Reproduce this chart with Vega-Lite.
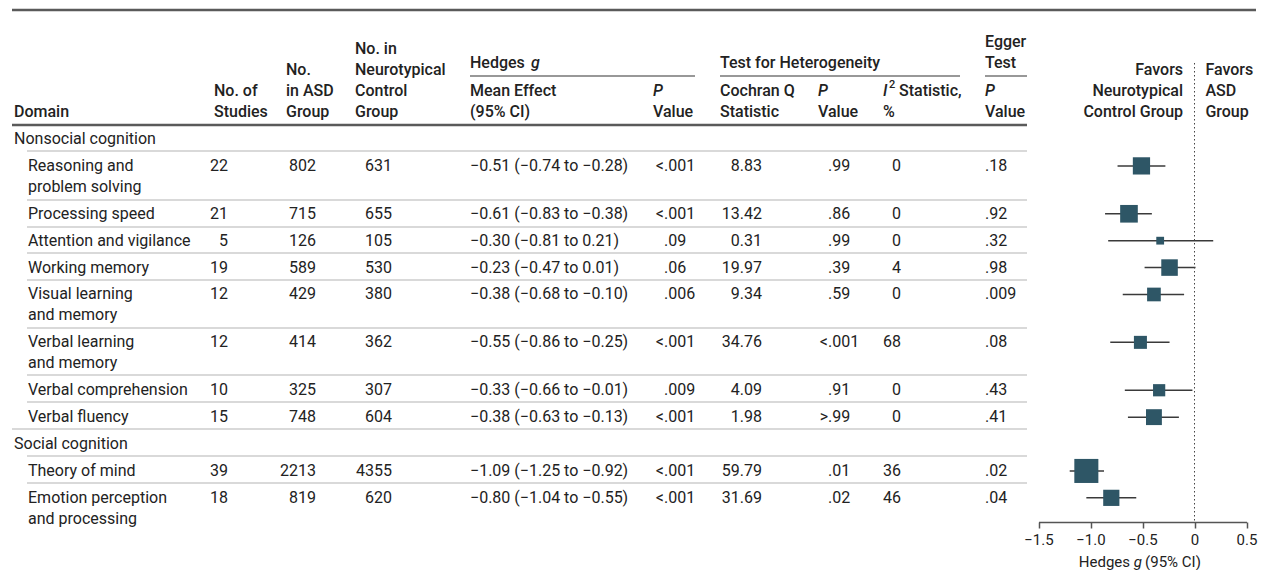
{
  "$schema": "https://vega.github.io/schema/vega-lite/v6.json",
  "width": 1262,
  "height": 522,
  "padding": 0,
  "autosize": {"type": "pad"},
  "background": "white",
  "config": {
    "view": {"stroke": null},
    "text": {"font": "Roboto", "fontSize": 16, "color": "#222222", "baseline": "top", "dy": -8, "lineHeight": 21, "align": "left"}
  },
  "datasets": {
    "rows": [
      {"row": 0, "lvl": 0, "label": "Nonsocial cognition"},
      {"row": 1, "lvl": 1, "label": "Reasoning and\nproblem solving", "n": "22", "asd": "802", "ctl": "631", "ci": "−0.51 (−0.74 to −0.28)", "pp": "<", "p": ".001", "q": "8.83", "hpp": "", "hp": ".99", "i2": "0", "eg": ".18", "g": -0.51, "lo": -0.74, "hi": -0.28, "w": 72.6},
      {"row": 2.78, "lvl": 1, "label": "Processing speed", "n": "21", "asd": "715", "ctl": "655", "ci": "−0.61 (−0.83 to −0.38)", "pp": "<", "p": ".001", "q": "13.42", "hpp": "", "hp": ".86", "i2": "0", "eg": ".92", "g": -0.63, "lo": -0.86, "hi": -0.41, "w": 75.9},
      {"row": 3.78, "lvl": 1, "label": "Attention and vigilance", "n": "5", "asd": "126", "ctl": "105", "ci": "−0.30 (−0.81 to 0.21)", "pp": "", "p": ".09", "q": "0.31", "hpp": "", "hp": ".99", "i2": "0", "eg": ".32", "g": -0.33, "lo": -0.83, "hi": 0.18, "w": 14.8},
      {"row": 4.78, "lvl": 1, "label": "Working memory", "n": "19", "asd": "589", "ctl": "530", "ci": "−0.23 (−0.47 to 0.01)", "pp": "", "p": ".06", "q": "19.97", "hpp": "", "hp": ".39", "i2": "4", "eg": ".98", "g": -0.24, "lo": -0.48, "hi": 0.01, "w": 66.7},
      {"row": 5.78, "lvl": 1, "label": "Visual learning\nand memory", "n": "12", "asd": "429", "ctl": "380", "ci": "−0.38 (−0.68 to −0.10)", "pp": "", "p": ".006", "q": "9.34", "hpp": "", "hp": ".59", "i2": "0", "eg": ".009", "g": -0.39, "lo": -0.69, "hi": -0.10, "w": 45.7},
      {"row": 7.56, "lvl": 1, "label": "Verbal learning\nand memory", "n": "12", "asd": "414", "ctl": "362", "ci": "−0.55 (−0.86 to −0.25)", "pp": "<", "p": ".001", "q": "34.76", "hpp": "<", "hp": ".001", "i2": "68", "eg": ".08", "g": -0.52, "lo": -0.81, "hi": -0.24, "w": 41.3},
      {"row": 9.34, "lvl": 1, "label": "Verbal comprehension", "n": "10", "asd": "325", "ctl": "307", "ci": "−0.33 (−0.66 to −0.01)", "pp": "", "p": ".009", "q": "4.09", "hpp": "", "hp": ".91", "i2": "0", "eg": ".43", "g": -0.34, "lo": -0.67, "hi": -0.02, "w": 36.4},
      {"row": 10.34, "lvl": 1, "label": "Verbal fluency", "n": "15", "asd": "748", "ctl": "604", "ci": "−0.38 (−0.63 to −0.13)", "pp": "<", "p": ".001", "q": "1.98", "hpp": ">", "hp": ".99", "i2": "0", "eg": ".41", "g": -0.39, "lo": -0.64, "hi": -0.15, "w": 61.5},
      {"row": 11.34, "lvl": 0, "label": "Social cognition"},
      {"row": 12.34, "lvl": 1, "label": "Theory of mind", "n": "39", "asd": "2213", "ctl": "4355", "ci": "−1.09 (−1.25 to −0.92)", "pp": "<", "p": ".001", "q": "59.79", "hpp": "", "hp": ".01", "i2": "36", "eg": ".02", "g": -1.04, "lo": -1.20, "hi": -0.87, "w": 141},
      {"row": 13.34, "lvl": 1, "label": "Emotion perception\nand processing", "n": "18", "asd": "819", "ctl": "620", "ci": "−0.80 (−1.04 to −0.55)", "pp": "<", "p": ".001", "q": "31.69", "hpp": "", "hp": ".02", "i2": "46", "eg": ".04", "g": -0.80, "lo": -1.04, "hi": -0.56, "w": 64}
    ],
    "seps": [
      {"row": 0.446, "kind": "item"},
      {"row": 2.268, "kind": "item"},
      {"row": 3.271, "kind": "item"},
      {"row": 4.238, "kind": "item"},
      {"row": 5.24, "kind": "item"},
      {"row": 7.026, "kind": "item"},
      {"row": 8.773, "kind": "item"},
      {"row": 9.777, "kind": "item"},
      {"row": 10.78, "kind": "group"},
      {"row": 11.784, "kind": "item"},
      {"row": 12.788, "kind": "item"}
    ]
  },
  "layer": [
    {
      "layer": [
        {"data": {"values": [{}]}, "mark": {"type": "rule", "color": "#5a5a5a", "strokeWidth": 2.5},
         "encoding": {"x": {"datum": 12, "type": "quantitative", "scale": {"domain": [0, 1262], "nice": false, "zero": false}, "axis": null}, "x2": {"datum": 1256},
                      "y": {"datum": -4.796, "type": "quantitative", "scale": {"domain": [-5.167, 14.238], "reverse": true, "nice": false, "zero": false}, "axis": null}}},
        {"data": {"values": [{}]}, "mark": {"type": "rule", "color": "#5a5a5a", "strokeWidth": 2.5},
         "encoding": {"x": {"datum": 12, "type": "quantitative", "scale": {"domain": [0, 1262], "nice": false, "zero": false}, "axis": null}, "x2": {"datum": 1027},
                      "y": {"datum": -0.52, "type": "quantitative", "scale": {"domain": [-5.167, 14.238], "reverse": true, "nice": false, "zero": false}, "axis": null}}},
        {"data": {"values": [{}]}, "mark": {"type": "rule", "color": "#333333", "strokeWidth": 1.2},
         "encoding": {"x": {"datum": 470, "type": "quantitative", "scale": {"domain": [0, 1262], "nice": false, "zero": false}, "axis": null}, "x2": {"datum": 695},
                      "y": {"datum": -2.342, "type": "quantitative", "scale": {"domain": [-5.167, 14.238], "reverse": true, "nice": false, "zero": false}, "axis": null}}},
        {"data": {"values": [{}]}, "mark": {"type": "rule", "color": "#333333", "strokeWidth": 1.2},
         "encoding": {"x": {"datum": 720, "type": "quantitative", "scale": {"domain": [0, 1262], "nice": false, "zero": false}, "axis": null}, "x2": {"datum": 960},
                      "y": {"datum": -2.342, "type": "quantitative", "scale": {"domain": [-5.167, 14.238], "reverse": true, "nice": false, "zero": false}, "axis": null}}},
        {"data": {"values": [{}]}, "mark": {"type": "rule", "color": "#333333", "strokeWidth": 1.2},
         "encoding": {"x": {"datum": 985, "type": "quantitative", "scale": {"domain": [0, 1262], "nice": false, "zero": false}, "axis": null}, "x2": {"datum": 1027},
                      "y": {"datum": -2.342, "type": "quantitative", "scale": {"domain": [-5.167, 14.238], "reverse": true, "nice": false, "zero": false}, "axis": null}}},
        {"data": {"name": "seps"}, "transform": [{"filter": "datum.kind == 'item'"}], "mark": {"type": "rule", "color": "#cccccc", "strokeWidth": 1.5},
         "encoding": {"x": {"datum": 27, "type": "quantitative", "scale": {"domain": [0, 1262], "nice": false, "zero": false}, "axis": null}, "x2": {"datum": 1027},
                      "y": {"field": "row", "type": "quantitative", "scale": {"domain": [-5.167, 14.238], "reverse": true, "nice": false, "zero": false}, "axis": null}}},
        {"data": {"name": "seps"}, "transform": [{"filter": "datum.kind == 'group'"}], "mark": {"type": "rule", "color": "#cccccc", "strokeWidth": 1.5},
         "encoding": {"x": {"datum": 12, "type": "quantitative", "scale": {"domain": [0, 1262], "nice": false, "zero": false}, "axis": null}, "x2": {"datum": 1027},
                      "y": {"field": "row", "type": "quantitative", "scale": {"domain": [-5.167, 14.238], "reverse": true, "nice": false, "zero": false}, "axis": null}}},

        {"data": {"values": [{"t": "Domain"}]}, "mark": {"type": "text", "fontWeight": 500},
         "encoding": {"x": {"datum": 14, "type": "quantitative", "scale": {"domain": [0, 1262], "nice": false, "zero": false}, "axis": null},
                      "y": {"datum": -1.004, "type": "quantitative", "scale": {"domain": [-5.167, 14.238], "reverse": true, "nice": false, "zero": false}, "axis": null}, "text": {"field": "t"}}},
        {"data": {"values": [{"t": "No. of\nStudies"}]}, "mark": {"type": "text", "fontWeight": 500, "lineBreak": "\n"},
         "encoding": {"x": {"datum": 214, "type": "quantitative", "scale": {"domain": [0, 1262], "nice": false, "zero": false}, "axis": null},
                      "y": {"datum": -1.784, "type": "quantitative", "scale": {"domain": [-5.167, 14.238], "reverse": true, "nice": false, "zero": false}, "axis": null}, "text": {"field": "t"}}},
        {"data": {"values": [{"t": "No.\nin ASD\nGroup"}]}, "mark": {"type": "text", "fontWeight": 500, "lineBreak": "\n"},
         "encoding": {"x": {"datum": 286, "type": "quantitative", "scale": {"domain": [0, 1262], "nice": false, "zero": false}, "axis": null},
                      "y": {"datum": -2.565, "type": "quantitative", "scale": {"domain": [-5.167, 14.238], "reverse": true, "nice": false, "zero": false}, "axis": null}, "text": {"field": "t"}}},
        {"data": {"values": [{"t": "No. in\nNeurotypical\nControl\nGroup"}]}, "mark": {"type": "text", "fontWeight": 500, "lineBreak": "\n"},
         "encoding": {"x": {"datum": 355, "type": "quantitative", "scale": {"domain": [0, 1262], "nice": false, "zero": false}, "axis": null},
                      "y": {"datum": -3.346, "type": "quantitative", "scale": {"domain": [-5.167, 14.238], "reverse": true, "nice": false, "zero": false}, "axis": null}, "text": {"field": "t"}}},
        {"data": {"values": [{"t": "Hedges"}]}, "mark": {"type": "text", "fontWeight": 500},
         "encoding": {"x": {"datum": 470, "type": "quantitative", "scale": {"domain": [0, 1262], "nice": false, "zero": false}, "axis": null},
                      "y": {"datum": -2.825, "type": "quantitative", "scale": {"domain": [-5.167, 14.238], "reverse": true, "nice": false, "zero": false}, "axis": null}, "text": {"field": "t"}}},
        {"data": {"values": [{"t": "g"}]}, "mark": {"type": "text", "fontWeight": 500, "fontStyle": "italic"},
         "encoding": {"x": {"datum": 531, "type": "quantitative", "scale": {"domain": [0, 1262], "nice": false, "zero": false}, "axis": null},
                      "y": {"datum": -2.825, "type": "quantitative", "scale": {"domain": [-5.167, 14.238], "reverse": true, "nice": false, "zero": false}, "axis": null}, "text": {"field": "t"}}},
        {"data": {"values": [{"t": "Mean Effect\n(95% CI)"}]}, "mark": {"type": "text", "fontWeight": 500, "lineBreak": "\n"},
         "encoding": {"x": {"datum": 470, "type": "quantitative", "scale": {"domain": [0, 1262], "nice": false, "zero": false}, "axis": null},
                      "y": {"datum": -1.784, "type": "quantitative", "scale": {"domain": [-5.167, 14.238], "reverse": true, "nice": false, "zero": false}, "axis": null}, "text": {"field": "t"}}},
        {"data": {"values": [{"t": "Test for Heterogeneity"}]}, "mark": {"type": "text", "fontWeight": 500},
         "encoding": {"x": {"datum": 720, "type": "quantitative", "scale": {"domain": [0, 1262], "nice": false, "zero": false}, "axis": null},
                      "y": {"datum": -2.825, "type": "quantitative", "scale": {"domain": [-5.167, 14.238], "reverse": true, "nice": false, "zero": false}, "axis": null}, "text": {"field": "t"}}},
        {"data": {"values": [{"t": "Cochran Q\nStatistic"}]}, "mark": {"type": "text", "fontWeight": 500, "lineBreak": "\n"},
         "encoding": {"x": {"datum": 720, "type": "quantitative", "scale": {"domain": [0, 1262], "nice": false, "zero": false}, "axis": null},
                      "y": {"datum": -1.784, "type": "quantitative", "scale": {"domain": [-5.167, 14.238], "reverse": true, "nice": false, "zero": false}, "axis": null}, "text": {"field": "t"}}},
        {"data": {"values": [{"t": "I"}]}, "mark": {"type": "text", "fontWeight": 500, "fontStyle": "italic"},
         "encoding": {"x": {"datum": 883, "type": "quantitative", "scale": {"domain": [0, 1262], "nice": false, "zero": false}, "axis": null},
                      "y": {"datum": -1.784, "type": "quantitative", "scale": {"domain": [-5.167, 14.238], "reverse": true, "nice": false, "zero": false}, "axis": null}, "text": {"field": "t"}}},
        {"data": {"values": [{"t": "2"}]}, "mark": {"type": "text", "fontWeight": 500, "fontSize": 11, "dy": -12},
         "encoding": {"x": {"datum": 889, "type": "quantitative", "scale": {"domain": [0, 1262], "nice": false, "zero": false}, "axis": null},
                      "y": {"datum": -1.784, "type": "quantitative", "scale": {"domain": [-5.167, 14.238], "reverse": true, "nice": false, "zero": false}, "axis": null}, "text": {"field": "t"}}},
        {"data": {"values": [{"t": "Statistic,"}]}, "mark": {"type": "text", "fontWeight": 500},
         "encoding": {"x": {"datum": 899, "type": "quantitative", "scale": {"domain": [0, 1262], "nice": false, "zero": false}, "axis": null},
                      "y": {"datum": -1.784, "type": "quantitative", "scale": {"domain": [-5.167, 14.238], "reverse": true, "nice": false, "zero": false}, "axis": null}, "text": {"field": "t"}}},
        {"data": {"values": [{"t": "%"}]}, "mark": {"type": "text", "fontWeight": 500},
         "encoding": {"x": {"datum": 883, "type": "quantitative", "scale": {"domain": [0, 1262], "nice": false, "zero": false}, "axis": null},
                      "y": {"datum": -1.004, "type": "quantitative", "scale": {"domain": [-5.167, 14.238], "reverse": true, "nice": false, "zero": false}, "axis": null}, "text": {"field": "t"}}},
        {"data": {"values": [{"t": "Egger\nTest"}]}, "mark": {"type": "text", "fontWeight": 500, "lineBreak": "\n"},
         "encoding": {"x": {"datum": 985, "type": "quantitative", "scale": {"domain": [0, 1262], "nice": false, "zero": false}, "axis": null},
                      "y": {"datum": -3.606, "type": "quantitative", "scale": {"domain": [-5.167, 14.238], "reverse": true, "nice": false, "zero": false}, "axis": null}, "text": {"field": "t"}}},
        {"data": {"values": [{"t": "P"}]}, "mark": {"type": "text", "fontWeight": 500, "fontStyle": "italic"},
         "encoding": {"x": {"datum": 653, "type": "quantitative", "scale": {"domain": [0, 1262], "nice": false, "zero": false}, "axis": null},
                      "y": {"datum": -1.784, "type": "quantitative", "scale": {"domain": [-5.167, 14.238], "reverse": true, "nice": false, "zero": false}, "axis": null}, "text": {"field": "t"}}},
        {"data": {"values": [{"t": "P"}]}, "mark": {"type": "text", "fontWeight": 500, "fontStyle": "italic"},
         "encoding": {"x": {"datum": 818, "type": "quantitative", "scale": {"domain": [0, 1262], "nice": false, "zero": false}, "axis": null},
                      "y": {"datum": -1.784, "type": "quantitative", "scale": {"domain": [-5.167, 14.238], "reverse": true, "nice": false, "zero": false}, "axis": null}, "text": {"field": "t"}}},
        {"data": {"values": [{"t": "P"}]}, "mark": {"type": "text", "fontWeight": 500, "fontStyle": "italic"},
         "encoding": {"x": {"datum": 985, "type": "quantitative", "scale": {"domain": [0, 1262], "nice": false, "zero": false}, "axis": null},
                      "y": {"datum": -1.784, "type": "quantitative", "scale": {"domain": [-5.167, 14.238], "reverse": true, "nice": false, "zero": false}, "axis": null}, "text": {"field": "t"}}},
        {"data": {"values": [{"t": "Value"}]}, "mark": {"type": "text", "fontWeight": 500},
         "encoding": {"x": {"datum": 653, "type": "quantitative", "scale": {"domain": [0, 1262], "nice": false, "zero": false}, "axis": null},
                      "y": {"datum": -1.004, "type": "quantitative", "scale": {"domain": [-5.167, 14.238], "reverse": true, "nice": false, "zero": false}, "axis": null}, "text": {"field": "t"}}},
        {"data": {"values": [{"t": "Value"}]}, "mark": {"type": "text", "fontWeight": 500},
         "encoding": {"x": {"datum": 818, "type": "quantitative", "scale": {"domain": [0, 1262], "nice": false, "zero": false}, "axis": null},
                      "y": {"datum": -1.004, "type": "quantitative", "scale": {"domain": [-5.167, 14.238], "reverse": true, "nice": false, "zero": false}, "axis": null}, "text": {"field": "t"}}},
        {"data": {"values": [{"t": "Value"}]}, "mark": {"type": "text", "fontWeight": 500},
         "encoding": {"x": {"datum": 985, "type": "quantitative", "scale": {"domain": [0, 1262], "nice": false, "zero": false}, "axis": null},
                      "y": {"datum": -1.004, "type": "quantitative", "scale": {"domain": [-5.167, 14.238], "reverse": true, "nice": false, "zero": false}, "axis": null}, "text": {"field": "t"}}},

        {"data": {"name": "rows"}, "transform": [{"filter": "datum.lvl == 0"}], "mark": {"type": "text"},
         "encoding": {"x": {"datum": 14, "type": "quantitative", "scale": {"domain": [0, 1262], "nice": false, "zero": false}, "axis": null},
                      "y": {"field": "row", "type": "quantitative", "scale": {"domain": [-5.167, 14.238], "reverse": true, "nice": false, "zero": false}, "axis": null}, "text": {"field": "label"}}},
        {"data": {"name": "rows"}, "transform": [{"filter": "datum.lvl == 1"}], "mark": {"type": "text", "lineBreak": "\n"},
         "encoding": {"x": {"datum": 28, "type": "quantitative", "scale": {"domain": [0, 1262], "nice": false, "zero": false}, "axis": null},
                      "y": {"field": "row", "type": "quantitative", "scale": {"domain": [-5.167, 14.238], "reverse": true, "nice": false, "zero": false}, "axis": null}, "text": {"field": "label"}}},
        {"data": {"name": "rows"}, "transform": [{"filter": "datum.lvl == 1"}], "mark": {"type": "text", "align": "right"},
         "encoding": {"x": {"datum": 228, "type": "quantitative", "scale": {"domain": [0, 1262], "nice": false, "zero": false}, "axis": null},
                      "y": {"field": "row", "type": "quantitative", "scale": {"domain": [-5.167, 14.238], "reverse": true, "nice": false, "zero": false}, "axis": null}, "text": {"field": "n"}}},
        {"data": {"name": "rows"}, "transform": [{"filter": "datum.lvl == 1"}], "mark": {"type": "text", "align": "right"},
         "encoding": {"x": {"datum": 316, "type": "quantitative", "scale": {"domain": [0, 1262], "nice": false, "zero": false}, "axis": null},
                      "y": {"field": "row", "type": "quantitative", "scale": {"domain": [-5.167, 14.238], "reverse": true, "nice": false, "zero": false}, "axis": null}, "text": {"field": "asd"}}},
        {"data": {"name": "rows"}, "transform": [{"filter": "datum.lvl == 1"}], "mark": {"type": "text", "align": "right"},
         "encoding": {"x": {"datum": 392, "type": "quantitative", "scale": {"domain": [0, 1262], "nice": false, "zero": false}, "axis": null},
                      "y": {"field": "row", "type": "quantitative", "scale": {"domain": [-5.167, 14.238], "reverse": true, "nice": false, "zero": false}, "axis": null}, "text": {"field": "ctl"}}},
        {"data": {"name": "rows"}, "transform": [{"filter": "datum.lvl == 1"}], "mark": {"type": "text"},
         "encoding": {"x": {"datum": 470, "type": "quantitative", "scale": {"domain": [0, 1262], "nice": false, "zero": false}, "axis": null},
                      "y": {"field": "row", "type": "quantitative", "scale": {"domain": [-5.167, 14.238], "reverse": true, "nice": false, "zero": false}, "axis": null}, "text": {"field": "ci"}}},
        {"data": {"name": "rows"}, "transform": [{"filter": "datum.lvl == 1"}], "mark": {"type": "text", "align": "right"},
         "encoding": {"x": {"datum": 664, "type": "quantitative", "scale": {"domain": [0, 1262], "nice": false, "zero": false}, "axis": null},
                      "y": {"field": "row", "type": "quantitative", "scale": {"domain": [-5.167, 14.238], "reverse": true, "nice": false, "zero": false}, "axis": null}, "text": {"field": "pp"}}},
        {"data": {"name": "rows"}, "transform": [{"filter": "datum.lvl == 1"}], "mark": {"type": "text"},
         "encoding": {"x": {"datum": 664, "type": "quantitative", "scale": {"domain": [0, 1262], "nice": false, "zero": false}, "axis": null},
                      "y": {"field": "row", "type": "quantitative", "scale": {"domain": [-5.167, 14.238], "reverse": true, "nice": false, "zero": false}, "axis": null}, "text": {"field": "p"}}},
        {"data": {"name": "rows"}, "transform": [{"filter": "datum.lvl == 1"}], "mark": {"type": "text", "align": "right"},
         "encoding": {"x": {"datum": 762, "type": "quantitative", "scale": {"domain": [0, 1262], "nice": false, "zero": false}, "axis": null},
                      "y": {"field": "row", "type": "quantitative", "scale": {"domain": [-5.167, 14.238], "reverse": true, "nice": false, "zero": false}, "axis": null}, "text": {"field": "q"}}},
        {"data": {"name": "rows"}, "transform": [{"filter": "datum.lvl == 1"}], "mark": {"type": "text", "align": "right"},
         "encoding": {"x": {"datum": 828, "type": "quantitative", "scale": {"domain": [0, 1262], "nice": false, "zero": false}, "axis": null},
                      "y": {"field": "row", "type": "quantitative", "scale": {"domain": [-5.167, 14.238], "reverse": true, "nice": false, "zero": false}, "axis": null}, "text": {"field": "hpp"}}},
        {"data": {"name": "rows"}, "transform": [{"filter": "datum.lvl == 1"}], "mark": {"type": "text"},
         "encoding": {"x": {"datum": 828, "type": "quantitative", "scale": {"domain": [0, 1262], "nice": false, "zero": false}, "axis": null},
                      "y": {"field": "row", "type": "quantitative", "scale": {"domain": [-5.167, 14.238], "reverse": true, "nice": false, "zero": false}, "axis": null}, "text": {"field": "hp"}}},
        {"data": {"name": "rows"}, "transform": [{"filter": "datum.lvl == 1"}], "mark": {"type": "text", "align": "right"},
         "encoding": {"x": {"datum": 901, "type": "quantitative", "scale": {"domain": [0, 1262], "nice": false, "zero": false}, "axis": null},
                      "y": {"field": "row", "type": "quantitative", "scale": {"domain": [-5.167, 14.238], "reverse": true, "nice": false, "zero": false}, "axis": null}, "text": {"field": "i2"}}},
        {"data": {"name": "rows"}, "transform": [{"filter": "datum.lvl == 1"}], "mark": {"type": "text"},
         "encoding": {"x": {"datum": 985, "type": "quantitative", "scale": {"domain": [0, 1262], "nice": false, "zero": false}, "axis": null},
                      "y": {"field": "row", "type": "quantitative", "scale": {"domain": [-5.167, 14.238], "reverse": true, "nice": false, "zero": false}, "axis": null}, "text": {"field": "eg"}}}
      ]
    },
    {
      "layer": [
        {"data": {"values": [{}]}, "mark": {"type": "rule", "color": "#444444", "strokeWidth": 1, "strokeDash": [1.5, 2.5]},
         "encoding": {"x": {"datum": 0, "type": "quantitative", "scale": {"domain": [-1.5, 0.5], "range": [1038.5, 1246.5], "nice": false, "zero": false},
                            "axis": {"values": [-1.5, -1, -0.5, 0, 0.5], "labelExpr": "datum.value == 0 ? '0' : format(datum.value, '.1f')", "title": null, "grid": false, "tickSize": 6, "domainColor": "#555555", "tickColor": "#555555", "domainWidth": 1.5, "tickWidth": 1.5, "labelFont": "Roboto", "labelFontSize": 15, "labelColor": "#222222", "labelPadding": 4, "labelFlush": false, "labelOverlap": false}},
                      "y": {"datum": -2.825, "type": "quantitative", "scale": {"domain": [-5.167, 14.238], "reverse": true, "nice": false, "zero": false}, "axis": null},
                      "y2": {"datum": 14.238}}},
        {"data": {"name": "rows"}, "transform": [{"filter": "datum.lvl == 1"}], "mark": {"type": "rule", "color": "#3a3a3a", "strokeWidth": 1.5},
         "encoding": {"x": {"field": "lo", "type": "quantitative", "scale": {"domain": [-1.5, 0.5], "range": [1038.5, 1246.5], "nice": false, "zero": false},
                            "axis": {"values": [-1.5, -1, -0.5, 0, 0.5], "labelExpr": "datum.value == 0 ? '0' : format(datum.value, '.1f')", "title": null, "grid": false, "tickSize": 6, "domainColor": "#555555", "tickColor": "#555555", "domainWidth": 1.5, "tickWidth": 1.5, "labelFont": "Roboto", "labelFontSize": 15, "labelColor": "#222222", "labelPadding": 4, "labelFlush": false, "labelOverlap": false}},
                      "x2": {"field": "hi"},
                      "y": {"field": "row", "type": "quantitative", "scale": {"domain": [-5.167, 14.238], "reverse": true, "nice": false, "zero": false}, "axis": null}}},
        {"data": {"name": "rows"}, "transform": [{"filter": "datum.lvl == 1"}], "mark": {"type": "point", "shape": "square", "filled": true, "color": "#2e5666", "opacity": 1, "strokeWidth": 0},
         "encoding": {"x": {"field": "g", "type": "quantitative", "scale": {"domain": [-1.5, 0.5], "range": [1038.5, 1246.5], "nice": false, "zero": false},
                            "axis": {"values": [-1.5, -1, -0.5, 0, 0.5], "labelExpr": "datum.value == 0 ? '0' : format(datum.value, '.1f')", "title": null, "grid": false, "tickSize": 6, "domainColor": "#555555", "tickColor": "#555555", "domainWidth": 1.5, "tickWidth": 1.5, "labelFont": "Roboto", "labelFontSize": 15, "labelColor": "#222222", "labelPadding": 4, "labelFlush": false, "labelOverlap": false}},
                      "y": {"field": "row", "type": "quantitative", "scale": {"domain": [-5.167, 14.238], "reverse": true, "nice": false, "zero": false}, "axis": null},
                      "size": {"field": "w", "type": "quantitative", "scale": {"domain": [0, 150], "range": [0, 615], "zero": true}, "legend": null}}},
        {"data": {"values": [{"t": "Favors\nNeurotypical\nControl Group"}]}, "mark": {"type": "text", "fontWeight": 500, "lineBreak": "\n", "align": "right"},
         "encoding": {"x": {"datum": -0.11, "type": "quantitative", "scale": {"domain": [-1.5, 0.5], "range": [1038.5, 1246.5], "nice": false, "zero": false},
                            "axis": {"values": [-1.5, -1, -0.5, 0, 0.5], "labelExpr": "datum.value == 0 ? '0' : format(datum.value, '.1f')", "title": null, "grid": false, "tickSize": 6, "domainColor": "#555555", "tickColor": "#555555", "domainWidth": 1.5, "tickWidth": 1.5, "labelFont": "Roboto", "labelFontSize": 15, "labelColor": "#222222", "labelPadding": 4, "labelFlush": false, "labelOverlap": false}},
                      "y": {"datum": -2.565, "type": "quantitative", "scale": {"domain": [-5.167, 14.238], "reverse": true, "nice": false, "zero": false}, "axis": null},
                      "text": {"field": "t"}}},
        {"data": {"values": [{"t": "Favors\nASD\nGroup"}]}, "mark": {"type": "text", "fontWeight": 500, "lineBreak": "\n", "align": "left"},
         "encoding": {"x": {"datum": 0.105, "type": "quantitative", "scale": {"domain": [-1.5, 0.5], "range": [1038.5, 1246.5], "nice": false, "zero": false},
                            "axis": {"values": [-1.5, -1, -0.5, 0, 0.5], "labelExpr": "datum.value == 0 ? '0' : format(datum.value, '.1f')", "title": null, "grid": false, "tickSize": 6, "domainColor": "#555555", "tickColor": "#555555", "domainWidth": 1.5, "tickWidth": 1.5, "labelFont": "Roboto", "labelFontSize": 15, "labelColor": "#222222", "labelPadding": 4, "labelFlush": false, "labelOverlap": false}},
                      "y": {"datum": -2.565, "type": "quantitative", "scale": {"domain": [-5.167, 14.238], "reverse": true, "nice": false, "zero": false}, "axis": null},
                      "text": {"field": "t"}}},
        {"data": {"values": [{"t": "Hedges"}]}, "mark": {"type": "text", "align": "right", "fontSize": 15},
         "encoding": {"x": {"datum": -0.62, "type": "quantitative", "scale": {"domain": [-1.5, 0.5], "range": [1038.5, 1246.5], "nice": false, "zero": false},
                            "axis": {"values": [-1.5, -1, -0.5, 0, 0.5], "labelExpr": "datum.value == 0 ? '0' : format(datum.value, '.1f')", "title": null, "grid": false, "tickSize": 6, "domainColor": "#555555", "tickColor": "#555555", "domainWidth": 1.5, "tickWidth": 1.5, "labelFont": "Roboto", "labelFontSize": 15, "labelColor": "#222222", "labelPadding": 4, "labelFlush": false, "labelOverlap": false}},
                      "y": {"datum": 15.75, "type": "quantitative", "scale": {"domain": [-5.167, 14.238], "reverse": true, "nice": false, "zero": false}, "axis": null},
                      "text": {"field": "t"}}},
        {"data": {"values": [{"t": "g"}]}, "mark": {"type": "text", "align": "left", "fontSize": 15, "fontStyle": "italic"},
         "encoding": {"x": {"datum": -0.585, "type": "quantitative", "scale": {"domain": [-1.5, 0.5], "range": [1038.5, 1246.5], "nice": false, "zero": false},
                            "axis": {"values": [-1.5, -1, -0.5, 0, 0.5], "labelExpr": "datum.value == 0 ? '0' : format(datum.value, '.1f')", "title": null, "grid": false, "tickSize": 6, "domainColor": "#555555", "tickColor": "#555555", "domainWidth": 1.5, "tickWidth": 1.5, "labelFont": "Roboto", "labelFontSize": 15, "labelColor": "#222222", "labelPadding": 4, "labelFlush": false, "labelOverlap": false}},
                      "y": {"datum": 15.75, "type": "quantitative", "scale": {"domain": [-5.167, 14.238], "reverse": true, "nice": false, "zero": false}, "axis": null},
                      "text": {"field": "t"}}},
        {"data": {"values": [{"t": "(95% CI)"}]}, "mark": {"type": "text", "align": "left", "fontSize": 15},
         "encoding": {"x": {"datum": -0.475, "type": "quantitative", "scale": {"domain": [-1.5, 0.5], "range": [1038.5, 1246.5], "nice": false, "zero": false},
                            "axis": {"values": [-1.5, -1, -0.5, 0, 0.5], "labelExpr": "datum.value == 0 ? '0' : format(datum.value, '.1f')", "title": null, "grid": false, "tickSize": 6, "domainColor": "#555555", "tickColor": "#555555", "domainWidth": 1.5, "tickWidth": 1.5, "labelFont": "Roboto", "labelFontSize": 15, "labelColor": "#222222", "labelPadding": 4, "labelFlush": false, "labelOverlap": false}},
                      "y": {"datum": 15.75, "type": "quantitative", "scale": {"domain": [-5.167, 14.238], "reverse": true, "nice": false, "zero": false}, "axis": null},
                      "text": {"field": "t"}}}
      ]
    }
  ],
  "resolve": {"scale": {"x": "independent"}}
}
